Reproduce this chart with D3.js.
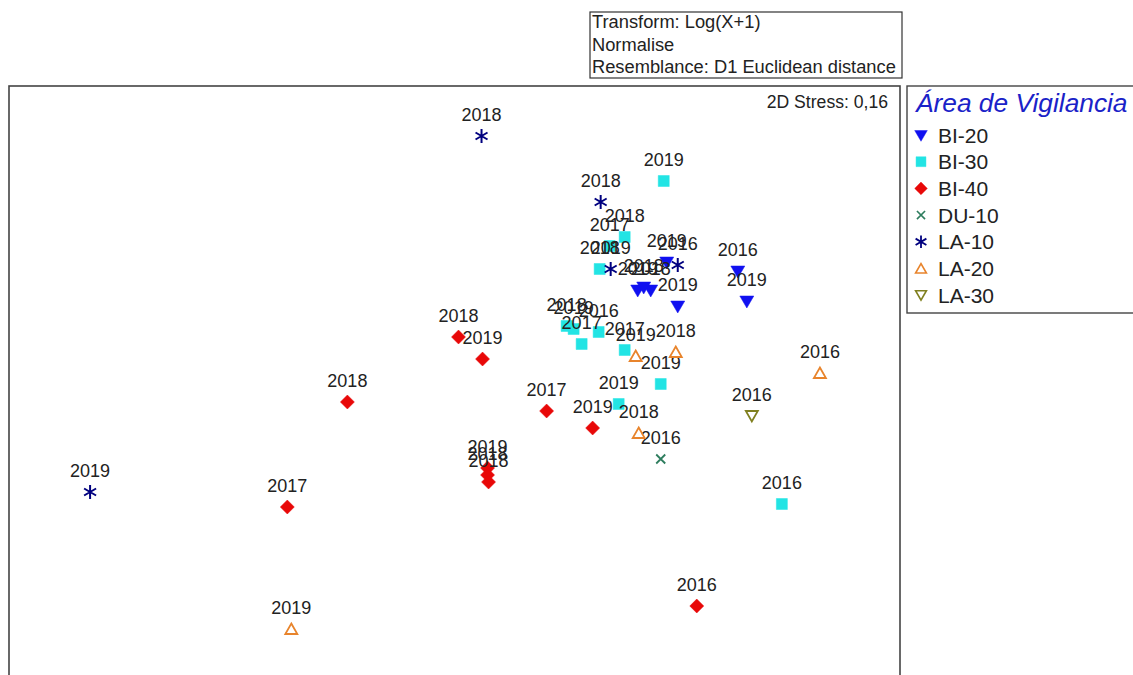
<!DOCTYPE html>
<html>
<head>
<meta charset="utf-8">
<script src="https://cdn.jsdelivr.net/npm/d3@7"></script>
<style>
  body { margin: 0; background: #fff; }
  text { font-family: "Liberation Sans", Arial, sans-serif; fill: #222; }
</style>
</head>
<body>
<div id="svg-container"></div>
<script>
//the data: MDS coordinates [x, y, year] per area
var groupNames = ["BI-20", "BI-30", "BI-40", "DU-10", "LA-10", "LA-20", "LA-30"];

var bi20 = [
  [1.415, 0.545, "2016"], [1.46, 0.395, "2019"], [1.115, 0.37, "2019"],
  [1.06, 0.59, "2019"], [0.915, 0.45, "2019"], [0.98, 0.45, "2018"],
  [0.945, 0.465, "2018"]
];
var bi30 = [
  [1.045, 0.995, "2019"], [0.85, 0.715, "2018"], [0.775, 0.67, "2017"],
  [0.725, 0.555, "2018"], [0.56, 0.27, "2018"], [0.595, 0.255, "2019"],
  [0.72, 0.24, "2016"], [0.635, 0.18, "2017"], [0.85, 0.15, "2017"],
  [1.03, -0.02, "2019"], [0.82, -0.12, "2019"], [1.635, -0.62, "2016"]
];
var bi40 = [
  [0.02, 0.215, "2018"], [0.14, 0.105, "2019"], [-0.535, -0.11, "2018"],
  [-0.835, -0.635, "2017"], [0.46, -0.155, "2017"], [0.69, -0.24, "2019"],
  [0.165, -0.44, "2019"], [0.165, -0.475, "2018"], [0.17, -0.51, "2018"],
  [1.21, -1.13, "2016"]
];
var du10 = [[1.03, -0.395, "2016"]];
var la10 = [
  [0.135, 1.22, "2018"], [0.73, 0.89, "2018"], [0.78, 0.555, "2019"],
  [1.115, 0.575, "2016"], [-1.82, -0.56, "2019"]
];
var la20 = [
  [0.905, 0.12, "2019"], [1.105, 0.14, "2018"], [1.825, 0.035, "2016"],
  [0.92, -0.265, "2018"], [-0.815, -1.245, "2019"]
];
var la30 = [[1.485, -0.18, "2016"]];

var groups = [bi20, bi30, bi40, du10, la10, la20, la30];

var infoLines = ["Transform: Log(X+1)", "Normalise", "Resemblance: D1 Euclidean distance"];
var stressText = "2D Stress: 0,16";
var legendTitle = "Área de Vigilancia";

//styles
var groupColors = ["#1010f0", "#22e4e4", "#e80808", "#2e7d5e", "#00007f", "#e8842c", "#808020"];
var groupShapes = ["triDownFill", "square", "diamond", "cross", "star", "triUp", "triDown"];

function shapePath(shape) {
  switch (shape) {
    case "triDownFill": return "M-7,-5L7,-5L0,7Z";
    case "square": return "M-5.5,-5.5h11v11h-11Z";
    case "diamond": return "M0,-7L7,0L0,7L-7,0Z";
    case "cross": return "M-4.5,-4.5L4.5,4.5M4.5,-4.5L-4.5,4.5";
    case "star": return "M0,-7L0,7M-6,-3.5L6,3.5M6,-3.5L-6,3.5";
    case "triUp": return "M0,-5.5L6,5L-6,5Z";
    case "triDown": return "M-6,-5L6,-5L0,5.5Z";
  }
}
function isFilled(shape) {
  return shape == "triDownFill" || shape == "square" || shape == "diamond";
}

var svg = d3
  .select("#svg-container")
  .append("svg")
  .attr("width", 1133)
  .attr("height", 675);

//plot frame
var plot = { left: 9, top: 86, right: 900, bottom: 674 };

var x = d3.scaleLinear().domain([-2.225, 2.225]).range([plot.left, plot.right]);
var y = d3.scaleLinear().domain([-1.47, 1.47]).range([674, 86]);

svg
  .append("rect")
  .attr("x", plot.left)
  .attr("y", plot.top)
  .attr("width", plot.right - plot.left)
  .attr("height", 700)
  .attr("fill", "none")
  .attr("stroke", "#444")
  .attr("stroke-width", 1.6);

//info box
var info = svg.append("g").attr("class", "info");
info
  .append("rect")
  .attr("x", 590)
  .attr("y", 12)
  .attr("width", 312)
  .attr("height", 66)
  .attr("fill", "#fff")
  .attr("stroke", "#333")
  .attr("stroke-width", 1.2);
info
  .selectAll("text")
  .data(infoLines)
  .enter()
  .append("text")
  .attr("x", 592)
  .attr("y", (d, i) => 28 + i * 22.5)
  .attr("font-size", "18.3px")
  .text((d) => d);

svg
  .append("text")
  .attr("x", 888)
  .attr("y", 108)
  .attr("text-anchor", "end")
  .attr("font-size", "17.6px")
  .text(stressText);

//the points
groups.forEach(function (pts, gi) {
  var g = svg.append("g").attr("class", "group-" + groupNames[gi]);
  var shape = groupShapes[gi];
  var col = groupColors[gi];

  g.selectAll("path")
    .data(pts)
    .enter()
    .append("path")
    .attr("transform", (d) => "translate(" + x(d[0]) + "," + y(d[1]) + ")")
    .attr("d", shapePath(shape))
    .attr("fill", isFilled(shape) ? col : "none")
    .attr("stroke", col)
    .attr("stroke-width", isFilled(shape) ? 0.5 : (shape == "star" ? 2 : 1.8));

  g.selectAll("text")
    .data(pts)
    .enter()
    .append("text")
    .attr("x", (d) => x(d[0]))
    .attr("y", (d) => y(d[1]) - 15)
    .attr("text-anchor", "middle")
    .attr("font-size", "18px")
    .text((d) => d[2]);
});

//the legend
var legend = svg.append("g").attr("class", "legend");
legend
  .append("rect")
  .attr("x", 907)
  .attr("y", 86)
  .attr("width", 240)
  .attr("height", 227)
  .attr("fill", "none")
  .attr("stroke", "#444")
  .attr("stroke-width", 1.4);

legend
  .append("text")
  .attr("x", 916)
  .attr("y", 112)
  .attr("font-size", "26.3px")
  .attr("font-style", "italic")
  .style("fill", "#1a22c8")
  .text(legendTitle);

var items = legend
  .selectAll("g.item")
  .data(groupNames)
  .enter()
  .append("g")
  .attr("class", "item")
  .attr("transform", (d, i) => "translate(921," + (135 + i * 26.7) + ")")
  ;

items
  .append("path")
  .attr("d", (d, i) => shapePath(groupShapes[i]))
  .attr("transform", "scale(0.9)")
  .attr("fill", (d, i) => (isFilled(groupShapes[i]) ? groupColors[i] : "none"))
  .attr("stroke", (d, i) => groupColors[i])
  .attr("stroke-width", (d, i) => (isFilled(groupShapes[i]) ? 0.5 : groupShapes[i] == "star" ? 2 : 1.8));

items
  .append("text")
  .attr("x", 17)
  .attr("y", 7.5)
  .attr("font-size", "21px")
  .text((d) => d);
</script>
</body>
</html>
